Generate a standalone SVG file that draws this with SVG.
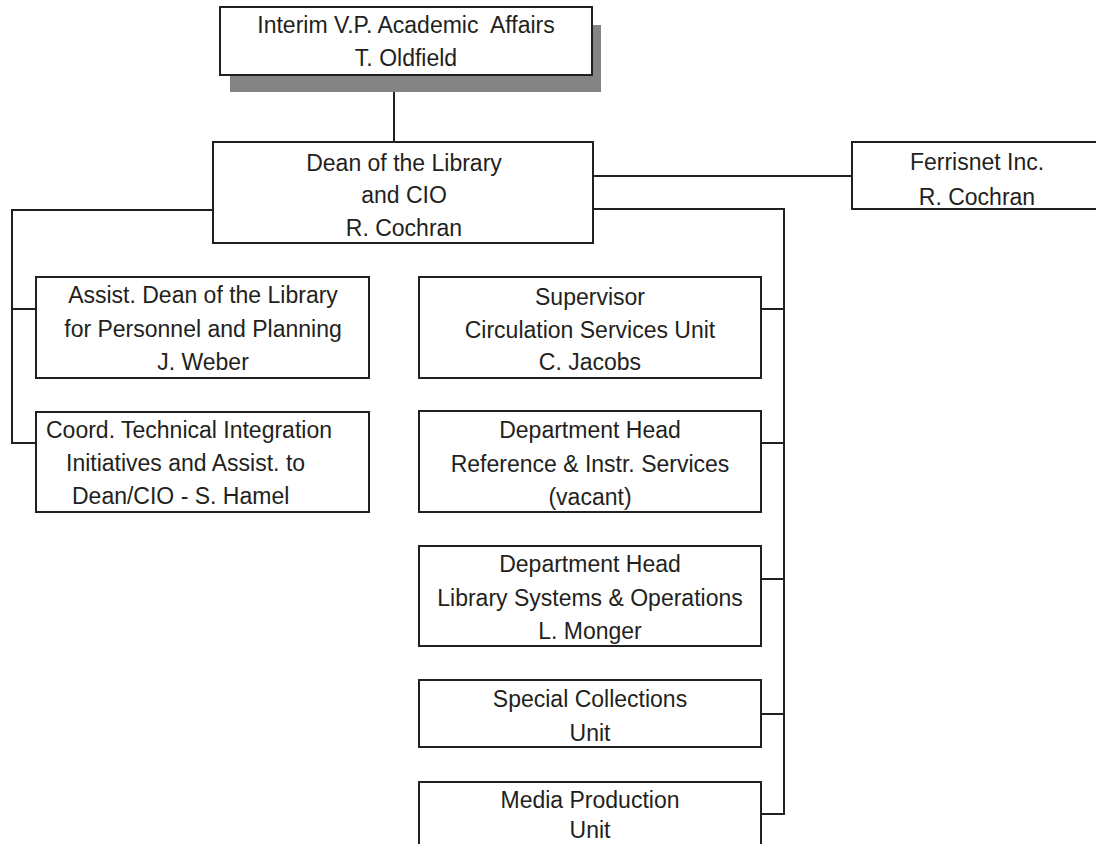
<svg xmlns="http://www.w3.org/2000/svg" width="1096" height="844" viewBox="0 0 1096 844">
<style>
.box{fill:#ffffff;stroke:#231f20;stroke-width:2}
.shadow{fill:#848484;stroke:none}
.conn{fill:none;stroke:#231f20;stroke-width:2}
text{font-family:"Liberation Sans",Arial,sans-serif;font-size:23px;fill:#231f20}
.c{text-anchor:middle}
</style>
<rect width="1096" height="844" fill="#ffffff"/>
<g id="connectors">
<path class="conn" d="M394,75 V142"/>
<path class="conn" d="M213,210 H12 V443 H36 M12,309 H36"/>
<path class="conn" d="M593,176 H852"/>
<path class="conn" d="M593,209 H784 V814 H761 M761,309 H784 M761,443 H784 M761,579 H784 M761,714 H784"/>
</g>
<g id="vp">
<rect class="shadow" x="230" y="25" width="371" height="67"/>
<rect class="box" x="220" y="7" width="372" height="68"/>
<text class="c" x="406" y="33" xml:space="preserve">Interim V.P. Academic  Affairs</text>
<text class="c" x="406" y="66">T. Oldfield</text>
</g>
<g id="dean">
<rect class="box" x="213" y="142" width="380" height="101"/>
<text class="c" x="404" y="171">Dean of the Library</text>
<text class="c" x="404" y="203">and CIO</text>
<text class="c" x="404" y="236">R. Cochran</text>
</g>
<g id="ferrisnet">
<rect class="box" x="852" y="142" width="252" height="67"/>
<text class="c" x="977" y="170">Ferrisnet Inc.</text>
<text class="c" x="977" y="205">R. Cochran</text>
</g>
<g id="assist">
<rect class="box" x="36" y="277" width="333" height="101"/>
<text class="c" x="203" y="303">Assist. Dean of the Library</text>
<text class="c" x="203" y="337">for Personnel and Planning</text>
<text class="c" x="203" y="370">J. Weber</text>
</g>
<g id="coord">
<rect class="box" x="36" y="412" width="333" height="100"/>
<text x="46" y="438">Coord. Technical Integration</text>
<text x="66" y="471">Initiatives and Assist. to</text>
<text x="72" y="504">Dean/CIO - S. Hamel</text>
</g>
<g id="supervisor">
<rect class="box" x="419" y="277" width="342" height="101"/>
<text class="c" x="590" y="305">Supervisor</text>
<text class="c" x="590" y="338">Circulation Services Unit</text>
<text class="c" x="590" y="370">C. Jacobs</text>
</g>
<g id="reference">
<rect class="box" x="419" y="411" width="342" height="101"/>
<text class="c" x="590" y="438">Department Head</text>
<text class="c" x="590" y="472">Reference &amp; Instr. Services</text>
<text class="c" x="590" y="505">(vacant)</text>
</g>
<g id="systems">
<rect class="box" x="419" y="546" width="342" height="100"/>
<text class="c" x="590" y="572">Department Head</text>
<text class="c" x="590" y="606">Library Systems &amp; Operations</text>
<text class="c" x="590" y="639">L. Monger</text>
</g>
<g id="special">
<rect class="box" x="419" y="680" width="342" height="67"/>
<text class="c" x="590" y="707">Special Collections</text>
<text class="c" x="590" y="741">Unit</text>
</g>
<g id="media">
<rect class="box" x="419" y="782" width="342" height="72"/>
<text class="c" x="590" y="808">Media Production</text>
<text class="c" x="590" y="838">Unit</text>
</g>
</svg>
